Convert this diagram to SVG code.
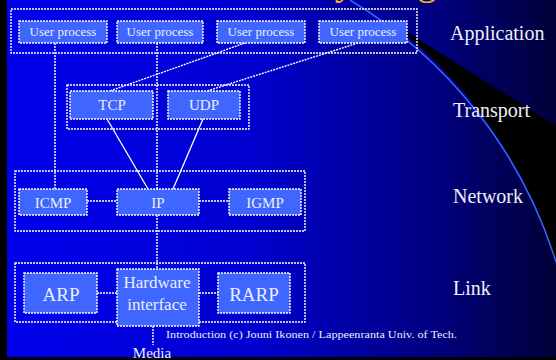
<svg xmlns="http://www.w3.org/2000/svg" width="556" height="360" viewBox="0 0 556 360">
<defs>
<linearGradient id="bg" x1="0" y1="0" x2="556" y2="0" gradientUnits="userSpaceOnUse">
<stop offset="0" stop-color="#0000EC"/>
<stop offset="0.45" stop-color="#0000D0"/>
<stop offset="0.8" stop-color="#00007A"/>
<stop offset="1" stop-color="#000038"/>
</linearGradient>
<style>
.grp{fill:none;stroke:#FFFFFF;stroke-width:1.4;stroke-dasharray:2 1}
.box{fill:#3F66FF;stroke:#FFFFFF;stroke-width:1.4;stroke-dasharray:2 1}
.dot{fill:none;stroke:#FFFFFF;stroke-width:1.4;stroke-dasharray:2 1}
.sol{fill:none;stroke:#FFFFFF;stroke-width:1.3}
.t{font-family:"Liberation Serif","Times New Roman",serif;fill:#ECEEFF}
.lay{font-family:"Liberation Serif","Times New Roman",serif;fill:#F0F0F8;font-size:20px}
</style>
</defs>
<rect x="0" y="0" width="556" height="360" fill="url(#bg)"/>
<path d="M383,17 L556,126 L556,262 A468,468 0 0 0 383,17 Z" fill="#000000"/>
<path d="M350,0 A468,468 0 0 1 556,262" fill="none" stroke="#3366FF" stroke-width="1.5"/>
<rect x="0" y="0" width="7" height="360" fill="#000000"/>
<rect x="0" y="357" width="556" height="3" fill="#000000"/>
<text x="437" y="-6" text-anchor="end" font-family="Liberation Serif, serif" font-size="40" fill="#F0B020">TCP/IP Layering</text>

<g id="connectors">
<line class="dot" x1="55" y1="43" x2="55" y2="189"/>
<line class="dot" x1="157" y1="43" x2="157" y2="189"/>
<line class="dot" x1="245" y1="43" x2="110" y2="91"/>
<line class="dot" x1="358" y1="43" x2="207" y2="91"/>
<line class="sol" x1="107" y1="119" x2="148" y2="189"/>
<line class="sol" x1="203" y1="119" x2="173" y2="189"/>
<line class="dot" x1="87" y1="201" x2="117" y2="201"/>
<line class="dot" x1="199" y1="201" x2="229" y2="201"/>
<line class="dot" x1="157" y1="215" x2="157" y2="269"/>
<line class="dot" x1="97" y1="293" x2="117" y2="293"/>
<line class="dot" x1="199" y1="293" x2="218" y2="293"/>
<line class="dot" x1="153" y1="326" x2="153" y2="345"/>
</g>

<g id="application-layer"><rect class="grp" x="11" y="9" width="406" height="44"/></g>
<g id="user-process-1"><rect class="box" x="19" y="21" width="88" height="22"/><text class="t" x="63" y="36" font-size="13" text-anchor="middle">User process</text></g>
<g id="user-process-2"><rect class="box" x="117" y="21" width="86" height="22"/><text class="t" x="160" y="36" font-size="13" text-anchor="middle">User process</text></g>
<g id="user-process-3"><rect class="box" x="217" y="21" width="88" height="22"/><text class="t" x="261" y="36" font-size="13" text-anchor="middle">User process</text></g>
<g id="user-process-4"><rect class="box" x="319" y="21" width="88" height="22"/><text class="t" x="363" y="36" font-size="13" text-anchor="middle">User process</text></g>

<g id="transport-layer"><rect class="grp" x="67" y="85" width="182" height="44"/></g>
<g id="tcp"><rect class="box" x="70" y="91" width="83" height="28"/><text class="t" x="112" y="110" font-size="15" text-anchor="middle">TCP</text></g>
<g id="udp"><rect class="box" x="168" y="91" width="72" height="28"/><text class="t" x="204" y="110" font-size="15" text-anchor="middle">UDP</text></g>

<g id="network-layer"><rect class="grp" x="15" y="171" width="290" height="60"/></g>
<g id="icmp"><rect class="box" x="19" y="189" width="68" height="26"/><text class="t" x="53" y="208" font-size="15" text-anchor="middle">ICMP</text></g>
<g id="ip"><rect class="box" x="117" y="189" width="82" height="26"/><text class="t" x="158" y="208" font-size="15" text-anchor="middle">IP</text></g>
<g id="igmp"><rect class="box" x="229" y="189" width="72" height="26"/><text class="t" x="265" y="208" font-size="15" text-anchor="middle">IGMP</text></g>

<g id="link-layer"><rect class="grp" x="15" y="263" width="290" height="59"/></g>
<g id="arp"><rect class="box" x="24" y="273" width="73" height="40"/><text class="t" x="61" y="301" font-size="19" text-anchor="middle">ARP</text></g>
<g id="hardware-interface"><rect class="box" x="117" y="269" width="82" height="57"/><text class="t" x="157" y="288" font-size="17" text-anchor="middle">Hardware</text><text class="t" x="157" y="310" font-size="17" text-anchor="middle">interface</text></g>
<g id="rarp"><rect class="box" x="218" y="273" width="72" height="40"/><text class="t" x="254" y="301" font-size="19" text-anchor="middle">RARP</text></g>

<g id="media"><text class="t" x="152" y="358" font-size="15" text-anchor="middle">Media</text></g>

<g id="labels">
<text class="lay" x="450" y="40">Application</text>
<text class="lay" x="453" y="117">Transport</text>
<text class="lay" x="453" y="203">Network</text>
<text class="lay" x="453" y="295">Link</text>
</g>
<text class="t" x="166" y="338" font-size="11" textLength="291" lengthAdjust="spacingAndGlyphs">Introduction (c) Jouni Ikonen / Lappeenranta Univ. of Tech.</text>
</svg>
